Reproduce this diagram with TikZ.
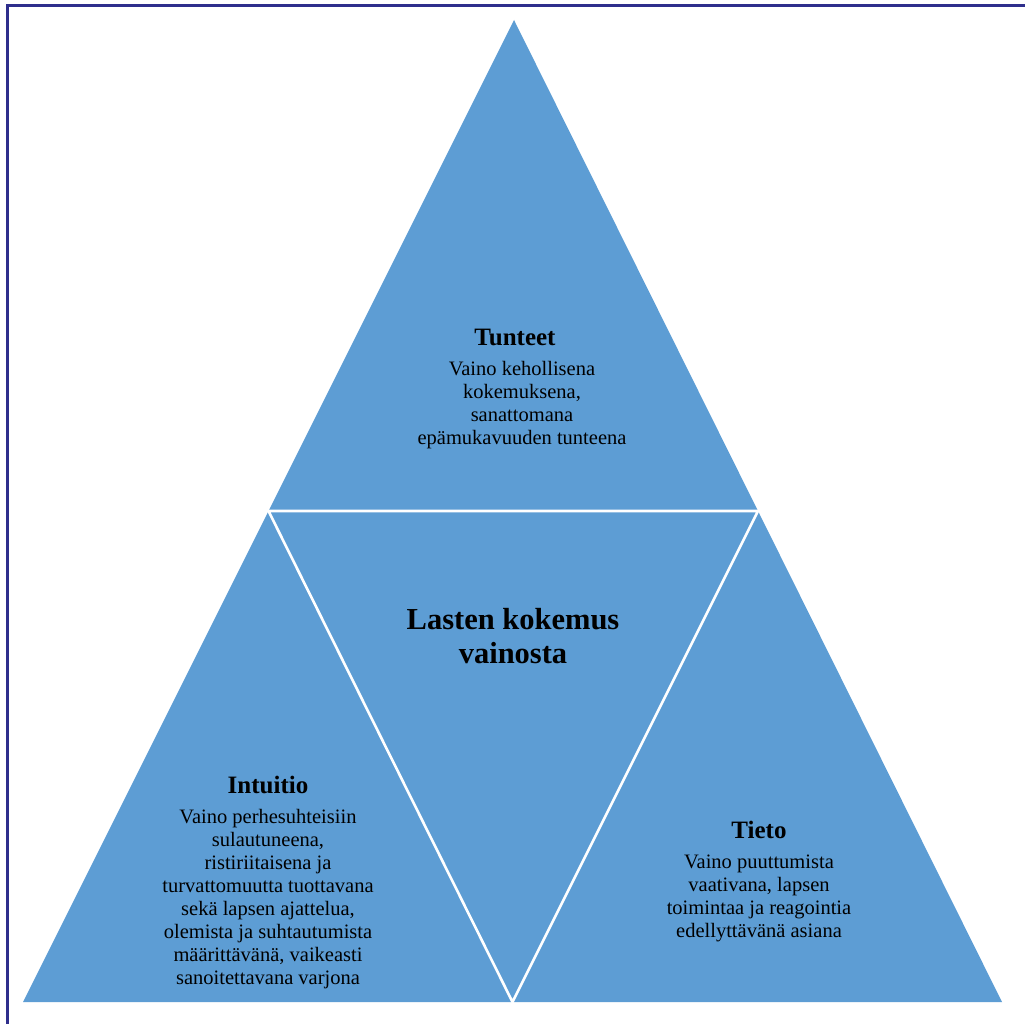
\documentclass[tikz,border=0pt]{standalone}
\usepackage{fontspec}
\setmainfont{Liberation Serif}
\definecolor{triblue}{RGB}{93,157,212}
\definecolor{framenavy}{RGB}{46,46,140}
\tikzset{
  body/.style={align=center, inner sep=0pt, font=\fontsize{20.5}{23}\selectfont, text=black},
  head/.style={inner sep=0pt, font=\fontsize{25}{28}\selectfont\bfseries, text=black},
  bighead/.style={align=center, inner sep=0pt, font=\fontsize{30.5}{34}\selectfont\bfseries, text=black},
  divider/.style={draw=white, line width=2.6pt}
}
\begin{document}
\begin{tikzpicture}[x=1pt,y=-1pt]
\useasboundingbox (0,0) rectangle (1025,1024);
\fill[white] (0,0) rectangle (1025,1024);
% frame (left and top visible)
\draw[framenavy, line width=2.4pt] (7.5,1024) -- (7.5,5.5) -- (1025,5.5);
% big triangle
\coordinate (A) at (514,20);
\coordinate (BL) at (23,1002);
\coordinate (BR) at (1002,1002);
\coordinate (ML) at (268.5,511);
\coordinate (MR) at (758,511);
\coordinate (MB) at (512.5,1002);
\fill[triblue] (A) -- (BR) -- (BL) -- cycle;
\draw[divider] (ML) -- (MR) -- (MB) -- cycle;
% texts
\node[head] (t1) at (515,337) {Tunteet};
\node[body] (b1) at (522,405) {Vaino kehollisena\\kokemuksena,\\sanattomana\\epämukavuuden tunteena};
\node[bighead] (c) at (513,636) {Lasten kokemus\\vainosta};
\node[head] (t2) at (268,785) {Intuitio};
\node[body] (b2) at (268,899) {Vaino perhesuhteisiin\\sulautuneena,\\ristiriitaisena ja\\turvattomuutta tuottavana\\sekä lapsen ajattelua,\\olemista ja suhtautumista\\määrittävänä, vaikeasti\\sanoitettavana varjona};
\node[head] (t3) at (759,830) {Tieto};
\node[body] (b3) at (759,898) {Vaino puuttumista\\vaativana, lapsen\\toimintaa ja reagointia\\edellyttävänä asiana};
\end{tikzpicture}
\end{document}
